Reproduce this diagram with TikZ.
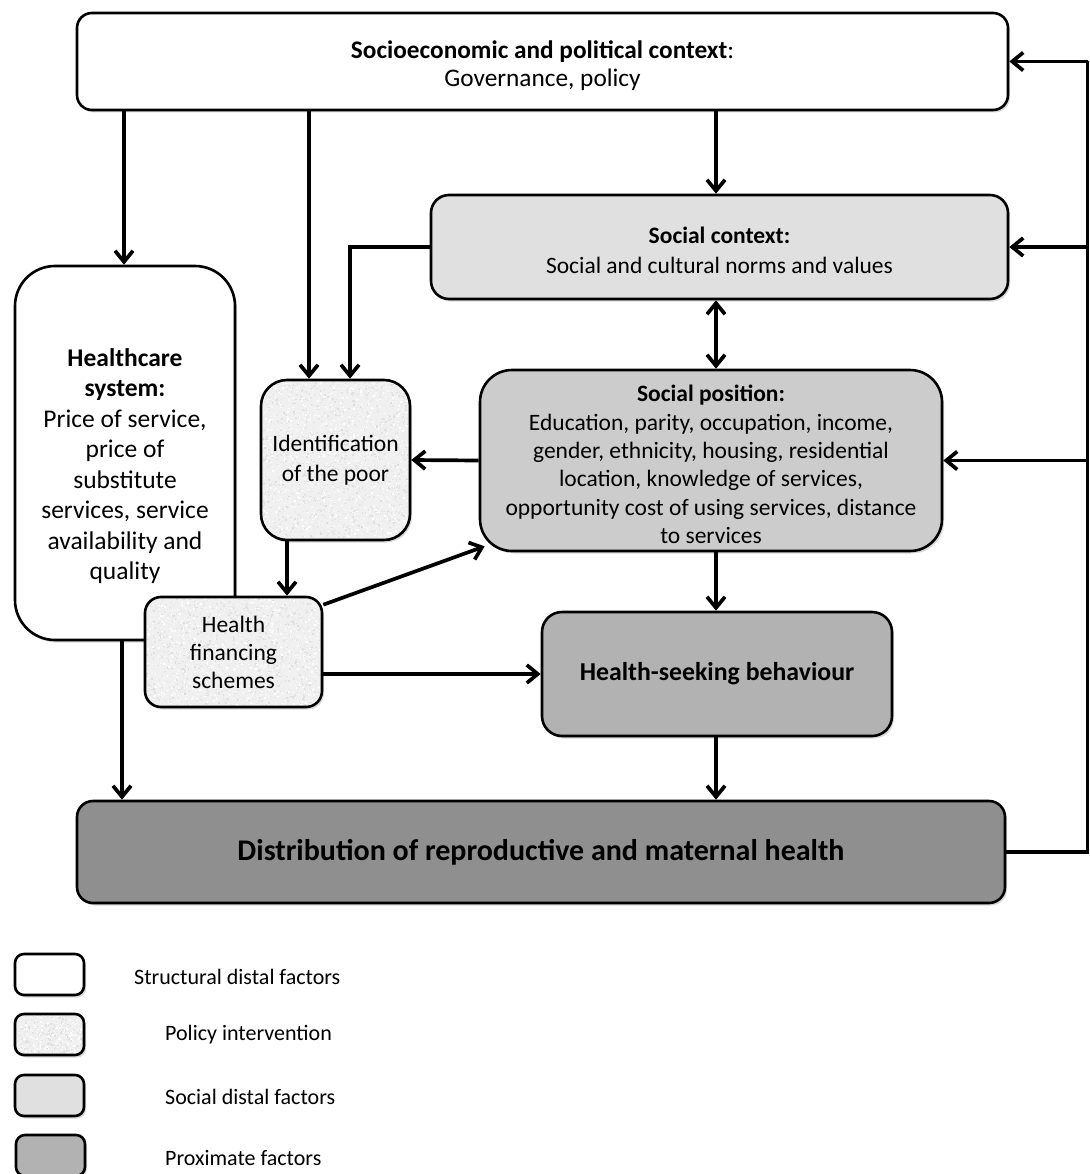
\documentclass[tikz,border=0pt]{standalone}
\usepackage{fontspec}
\setmainfont{Carlito}
\usetikzlibrary{arrows.meta,shadows,calc}

\definecolor{scfill}{gray}{0.88}
\definecolor{spfill}{gray}{0.80}
\definecolor{hsfill}{gray}{0.70}
\definecolor{dsfill}{gray}{0.56}

% speckled fill for policy boxes: x1,y1,x2,y2,radius,seed,count
\newcommand\noisefill[7]{%
  \path[fill=black!6, rounded corners=#5,
        drop shadow={shadow xshift=2pt,shadow yshift=-2.5pt,opacity=0.3}]
        (#1,#2) rectangle (#3,#4);
  \begin{scope}
    \clip[rounded corners=#5] (#1,#2) rectangle (#3,#4);
    \pgfmathsetseed{#6}
    \foreach \k in {1,...,#7}{
      \pgfmathsetmacro\px{#1+rnd*(#3-#1)}
      \pgfmathsetmacro\py{#2+rnd*(#4-#2)}
      \pgfmathsetmacro\gg{int(rnd*14)}
      \fill[black!\gg] (\px,\py) rectangle ++(1.5,1.5);
    }
  \end{scope}}

\begin{document}
\begin{tikzpicture}[x=1pt,y=-1pt,
  plainbox/.style={draw=black, line width=2.6pt, rounded corners=16pt, align=center,
    inner sep=0pt, font=\fontsize{23.5}{28.5}\selectfont},
  box/.style={plainbox, fill=white,
    drop shadow={shadow xshift=2pt,shadow yshift=-2.5pt,opacity=0.3}},
  txt/.style={align=center, inner sep=0pt},
  ln/.style={line width=3.7pt},
  arr/.style={line width=3.7pt, -{Straight Barb[length=11pt,width=18pt]}},
  darr/.style={line width=3.7pt, {Straight Barb[length=11pt,width=18pt]}-{Straight Barb[length=11pt,width=18pt]}},
  legtext/.style={anchor=west, inner sep=0pt, font=\fontsize{22}{26}\selectfont}
]
\useasboundingbox (0,0) rectangle (1089,1174);

% ---- main boxes ----
\node[box, minimum width=931pt, minimum height=97pt, rounded corners=15pt] (top) at (542.5,61.5) {};
\node[txt, font=\fontsize{25.3}{28}\selectfont] (toptxt) at (542.5,66)
  {\textbf{Socioeconomic and political context}:\\Governance, policy};
\node[box, fill=scfill, minimum width=577pt, minimum height=104pt, rounded corners=18pt] (sc) at (719.5,247) {};
\node[txt, font=\fontsize{23.5}{30}\selectfont] (sctxt) at (719.5,250)
  {\textbf{Social context:}\\Social and cultural norms and values};
\node[box, minimum width=220pt, minimum height=374pt, rounded corners=40pt] (hc) at (125,453) {};
\node[txt, font=\fontsize{25.5}{30.5}\selectfont] (hctxt) at (125,466)
  {\textbf{Healthcare}\\\textbf{system:}\\Price of service,\\price of\\substitute\\services, service\\availability and\\quality};
\noisefill{261}{380}{410}{540}{26pt}{11}{3400}
\node[plainbox, minimum width=149pt, minimum height=160pt, rounded corners=26pt,
  font=\fontsize{23.5}{30}\selectfont] (idp) at (335.5,460)
  {Identification\\of the poor};
\node[box, fill=spfill, minimum width=462pt, minimum height=181pt, rounded corners=32pt] (sp) at (711,460.5) {};
\node[txt, font=\fontsize{23.5}{28.3}\selectfont] (sptxt) at (711,464.5)
  {\textbf{Social position:}\\Education, parity, occupation, income,\\gender, ethnicity, housing, residential\\location, knowledge of services,\\opportunity cost of using services, distance\\to services};
\noisefill{145}{597}{322}{707}{16pt}{23}{2800}
\node[plainbox, minimum width=177pt, minimum height=110pt, rounded corners=16pt,
  font=\fontsize{23.5}{28}\selectfont] (hf) at (233.5,652)
  {Health\\financing\\schemes};
\node[box, fill=hsfill, minimum width=350pt, minimum height=124pt, rounded corners=20pt,
  font=\fontsize{25.8}{30}\selectfont\bfseries] (hs) at (717,674)
  {Health-seeking behaviour};
\node[box, fill=dsfill, minimum width=928pt, minimum height=102pt, rounded corners=16pt,
  font=\fontsize{30}{34}\selectfont\bfseries] (dist) at (541,852)
  {Distribution of reproductive and maternal health};

% ---- connectors ----
\draw[arr] (top.south -| 124,0) -- (hc.north -| 124,0);
\draw[arr] (top.south -| 309,0) -- (idp.north -| 309,0);
\draw[arr] (top.south -| 716,0) -- (sc.north -| 716,0);
\draw[arr] (sc.west) -| (idp.north -| 350,0);
\draw[darr] (sc.south -| 716,0) -- (sp.north -| 716,0);
\draw[arr] (sp.west) -- (idp.east);
\draw[arr] (idp.south -| 287,0) -- (hf.north -| 287,0);
\draw[arr] ([yshift=-9pt]hf.north east) -- ([xshift=6pt,yshift=6pt]sp.south west);
\draw[arr] (hf.east |- hs.west) -- (hs.west);
\draw[arr] (sp.south -| 716,0) -- (hs.north -| 716,0);
\draw[arr] (hs.south -| 716,0) -- (dist.north -| 716,0);
\draw[arr] (hc.south -| 122,0) -- (dist.north -| 122,0);

% ---- feedback loop on the right ----
\coordinate (fb) at (1087.5,852);
\draw[ln] (dist.east) -- (fb) -- (fb |- top.east);
\draw[arr] (fb |- top.east) -- (top.east);
\draw[arr] (fb |- sc.east) -- (sc.east);
\draw[arr] (fb |- sp.east) -- (sp.east);

% ---- legend ----
\node[box, minimum width=69pt, minimum height=41pt, rounded corners=9pt] (l1) at (49.5,974.5) {};
\noisefill{15}{1014}{84}{1055}{9pt}{37}{700}
\node[plainbox, minimum width=69pt, minimum height=41pt, rounded corners=9pt] (l2) at (49.5,1034.5) {};
\node[box, fill=scfill, minimum width=69pt, minimum height=41pt, rounded corners=9pt] (l3) at (49.5,1095.5) {};
\node[box, fill=hsfill, minimum width=69pt, minimum height=41pt, rounded corners=9pt] (l4) at (50.5,1155.5) {};
\node[legtext] (t1) at (134,977) {Structural distal factors};
\node[legtext] (t2) at (165,1035) {Policy intervention};
\node[legtext] (t3) at (165,1097) {Social distal factors};
\node[legtext] (t4) at (165,1158) {Proximate factors};
\end{tikzpicture}
\end{document}
